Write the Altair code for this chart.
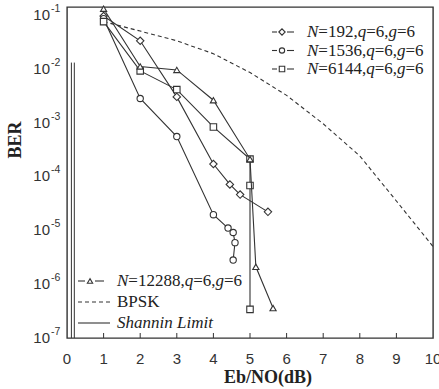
import altair as alt
import pandas as pd

# ---------------- data ----------------
x_192 = [1, 2, 3, 4, 4.45, 4.73, 5.49]
y_192 = [0.095, 0.033, 3.0e-3, 1.7e-4, 7.1e-5, 4.6e-5, 2.2e-5]

x_1536 = [1, 2, 3, 4, 4.4, 4.54, 4.59, 4.54]
y_1536 = [0.085, 2.8e-3, 5.5e-4, 1.95e-5, 1.1e-5, 9.1e-6, 5.9e-6, 2.8e-6]

x_6144 = [1, 2, 3, 4, 5.0, 5.0, 5.0]
y_6144 = [0.075, 9.1e-3, 4.1e-3, 8.3e-4, 2.1e-4, 6.8e-5, 3.4e-7]

x_12288 = [1, 2, 3, 4, 5.0, 5.16, 5.63]
y_12288 = [0.13, 0.011, 9.5e-3, 2.6e-3, 2.1e-4, 2.1e-6, 3.6e-7]

x_bpsk = [1, 2, 3, 4, 5, 6, 7, 8, 9, 10]
y_bpsk = [0.075, 0.05, 0.033, 0.019, 8.5e-3, 3.2e-3, 9.5e-4, 2.4e-4, 3.5e-5, 5.0e-6]

shannon_x = [0.12, 0.2]
shannon_top = 0.013
shannon_bottom = 1e-7

x_ticks = list(range(0, 11))
y_tick_exp = [-1, -2, -3, -4, -5, -6, -7]

series_names = ["N=192,q=6,g=6", "N=1536,q=6,g=6", "N=6144,q=6,g=6", "N=12288,q=6,g=6"]
bpsk_name = "BPSK"
shannon_name = "Shannin Limit"

# ---------------- styling ----------------
INK = "#333333"
TXT = "#222222"
W, H = 366, 331

xs = alt.Scale(domain=[0, 10], nice=False)
ys = alt.Scale(type="log", domain=[1e-7, 0.14], nice=False)


def X(f):
    return alt.X(f, scale=xs, axis=None)


def Y(f):
    return alt.Y(f, scale=ys, axis=None)


def series_layers(xv, yv, shape, size):
    df = pd.DataFrame({"x": xv, "y": yv, "o": list(range(len(xv)))})
    base = alt.Chart(df)
    line = base.mark_line(color=INK, strokeWidth=1.1).encode(
        x=X("x:Q"), y=Y("y:Q"), order="o:Q")
    pts = base.mark_point(shape=shape, size=size, filled=True, fill="white",
                          stroke=INK, strokeWidth=1.1, opacity=1).encode(
        x=X("x:Q"), y=Y("y:Q"))
    return [line, pts]


layers = []

# Shannon limit lines
sh = pd.DataFrame({"x": shannon_x, "y": [shannon_top] * len(shannon_x),
                   "y2": [shannon_bottom] * len(shannon_x)})
layers.append(alt.Chart(sh).mark_rule(color=INK, strokeWidth=1.0).encode(
    x=X("x:Q"), y=Y("y:Q"), y2="y2:Q"))

# BPSK
bp = pd.DataFrame({"x": x_bpsk, "y": y_bpsk})
layers.append(alt.Chart(bp).mark_line(color=INK, strokeWidth=1.1, strokeDash=[4, 3]).encode(
    x=X("x:Q"), y=Y("y:Q")))

layers += series_layers(x_192, y_192, "diamond", 55)
layers += series_layers(x_1536, y_1536, "circle", 40)
layers += series_layers(x_6144, y_6144, "square", 42)
layers += series_layers(x_12288, y_12288, "triangle-up", 38)

# inward ticks on bottom axis + x tick labels
tk = pd.DataFrame({"x": x_ticks})
layers.append(alt.Chart(tk[(tk.x > 0) & (tk.x < 10)]).mark_rule(color=INK, strokeWidth=1).encode(
    x=X("x:Q"), y=alt.value(H), y2=alt.value(H - 5)))
layers.append(alt.Chart(tk).mark_text(align="center", baseline="middle", font="Liberation Sans",
                                      fontSize=15, color=INK).encode(
    x=X("x:Q"), y=alt.value(H + 21), text="x:N"))

# y tick labels 10^n
yl = pd.DataFrame({"v": [10.0 ** e for e in y_tick_exp],
                   "e": [str(e) for e in y_tick_exp]})
layers.append(alt.Chart(yl).mark_text(align="right", baseline="middle", font="Liberation Sans",
                                      fontSize=15, color=INK).encode(
    y=Y("v:Q"), x=alt.value(-17), text=alt.value("10")))
layers.append(alt.Chart(yl).mark_text(align="left", baseline="middle", font="Liberation Sans",
                                      fontSize=10.5, color=INK, dy=-6).encode(
    y=Y("v:Q"), x=alt.value(-16), text="e:N"))

# axis titles
one = pd.DataFrame({"a": [0]})
layers.append(alt.Chart(one).mark_text(font="Liberation Serif", fontSize=18, fontWeight="bold",
                                       angle=270, color=TXT, align="center", baseline="middle").encode(
    x=alt.value(-51), y=alt.value(133), text=alt.value("BER")))
layers.append(alt.Chart(one).mark_text(font="Liberation Serif", fontSize=18, fontWeight="bold",
                                       color=TXT, align="center", baseline="middle").encode(
    x=alt.value(201), y=alt.value(371), text=alt.value("Eb/NO(dB)")))

# ---------------- legends ----------------
FS = 17
WID_REG = {"=": 564, ",": 250, " ": 250}
WID_IT = {"N": 667, "q": 500, "g": 500}


def seg_width(s, italic):
    tot = 0
    for ch in s:
        if italic:
            tot += WID_IT.get(ch, 500)
        else:
            tot += WID_REG.get(ch, 500)
    return tot * FS / 1000.0


def label_segments(name):
    # N, q, g italic; the rest upright
    segs = []
    cur, cur_it = "", None
    for ch in name:
        it = ch in "Nqg"
        if cur_it is None or it == cur_it:
            cur += ch
            cur_it = it
        else:
            segs.append((cur, cur_it))
            cur, cur_it = ch, it
    segs.append((cur, cur_it))
    return segs


def text_layers(x0, y0, segs):
    out = []
    x = x0
    for s, it in segs:
        out.append(alt.Chart(one).mark_text(font="Liberation Serif", fontSize=FS,
                                            fontStyle="italic" if it else "normal",
                                            color=TXT, align="left", baseline="middle").encode(
            x=alt.value(x), y=alt.value(y0), text=alt.value(s)))
        x += seg_width(s, it)
    return out


def marker_entry(xl, xm, xr, y0, shape, size):
    out = []
    out.append(alt.Chart(one).mark_rule(color=INK, strokeWidth=1.1).encode(
        x=alt.value(xl), x2=alt.value(xm - 5), y=alt.value(y0)))
    out.append(alt.Chart(one).mark_rule(color=INK, strokeWidth=1.1).encode(
        x=alt.value(xm + 5), x2=alt.value(xr), y=alt.value(y0)))
    out.append(alt.Chart(one).mark_point(shape=shape, size=size, filled=True, fill="white",
                                         stroke=INK, strokeWidth=1.1, opacity=1).encode(
        x=alt.value(xm), y=alt.value(y0)))
    return out


# top-right legend
for i, (name, shape, size) in enumerate(zip(series_names[:3],
                                            ["diamond", "circle", "square"],
                                            [40, 28, 30])):
    y0 = 25 + i * 18.5
    layers += marker_entry(205, 215, 227, y0, shape, size)
    layers += text_layers(240, y0, label_segments(name))

# bottom-left legend
y0 = 274
layers += marker_entry(11, 23, 37, y0, "triangle-up", 28)
layers += text_layers(50, y0, label_segments(series_names[3]))

y0 = 295
layers.append(alt.Chart(one).mark_rule(color=INK, strokeWidth=1.1, strokeDash=[4, 3]).encode(
    x=alt.value(11), x2=alt.value(43), y=alt.value(y0)))
layers += text_layers(50, y0, [(bpsk_name, False)])

y0 = 316
layers.append(alt.Chart(one).mark_rule(color=INK, strokeWidth=1.1).encode(
    x=alt.value(11), x2=alt.value(43), y=alt.value(y0)))
layers.append(alt.Chart(one).mark_text(font="Liberation Serif", fontSize=FS, fontStyle="italic",
                                       color=TXT, align="left", baseline="middle").encode(
    x=alt.value(50), y=alt.value(y0), text=alt.value(shannon_name)))

chart = alt.layer(*layers).properties(
    width=W, height=H,
    autosize=alt.AutoSizeParams(type="none"),
    padding={"left": 67, "top": 7, "right": 6, "bottom": 51},
    background="white",
).configure_view(stroke=INK, strokeWidth=1.4)

chart.save("out.html", embed_options={"renderer": "svg", "actions": False})
